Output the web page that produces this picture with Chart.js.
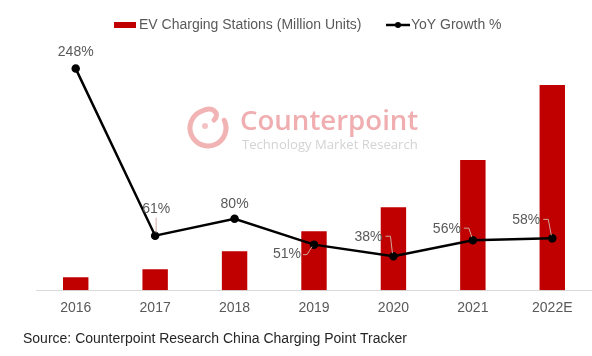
<!DOCTYPE html>
<html>
<head>
<meta charset="utf-8">
<script src="https://cdn.jsdelivr.net/npm/chart.js@4/dist/chart.umd.min.js"></script>
<style>
html,body{margin:0;padding:0;background:#fff;}
#wrap{width:592px;height:356px;}
</style>
</head>
<body>
<div id="wrap"><canvas id="c" width="592" height="356"></canvas></div>
<script>
// ---- data ----
const categories = ['2016', '2017', '2018', '2019', '2020', '2021', '2022E'];
const stations = [0.26, 0.42, 0.78, 1.18, 1.66, 2.6, 4.1];   // million units
const growth = [248, 61, 80, 51, 38, 56, 58];                  // YoY %
const growthLabels = ['248%', '61%', '80%', '51%', '38%', '56%', '58%'];
const seriesNames = ['EV Charging Stations (Million Units)', 'YoY Growth %'];
const sourceText = 'Source: Counterpoint Research China Charging Point Tracker';
const watermarkTitle = 'Counterpoint';
const watermarkSub = 'Technology Market Research';

// ---- style ----
const FONT = '"Liberation Sans", Arial, Helvetica, sans-serif';
const RED = '#c00000';
const GRAY = '#595959';
// label offsets relative to point (dx, dy) and leader-line style
const labelStyle = [
  {dx: 0, dy: -16, leader: null},
  {dx: 1, dy: -27, leader: 'vert'},
  {dx: 0, dy: -15, leader: null},
  {dx: -27, dy: 10, leader: 'left'},
  {dx: -25, dy: -19, leader: 'hook'},
  {dx: -26, dy: -11, leader: 'hook'},
  {dx: -26, dy: -18, leader: 'hook'}
];

const decor = {
  id: 'decor',
  beforeDatasetsDraw(chart) {
    const ctx = chart.ctx;
    ctx.save();
    // watermark logo
    const cx = 208, cy = 128, r = 18;
    const a1 = Math.PI * 1.40;
    ctx.strokeStyle = '#f2b3b5';
    ctx.lineWidth = 5;
    ctx.lineCap = 'round';
    ctx.beginPath();
    ctx.arc(cx, cy, r, -Math.PI * 0.14, a1, false);
    ctx.bezierCurveTo(cx + 4, cy - 22, cx + 13, cy - 15, cx + 6, cy - 8);
    ctx.stroke();
    ctx.fillStyle = '#f4c2c3';
    ctx.beginPath();
    ctx.arc(cx - 3, cy - 2, 3, 0, Math.PI * 2);
    ctx.fill();
    // watermark text
    ctx.textBaseline = 'middle';
    ctx.textAlign = 'left';
    ctx.font = '600 28px "Open Sans", Lato, sans-serif';
    let w = ctx.measureText(watermarkTitle).width;
    let size = 28 * 178 / w;
    ctx.font = '600 ' + size.toFixed(1) + 'px "Open Sans", Lato, sans-serif';
    ctx.fillStyle = '#f0aeb1';
    ctx.fillText(watermarkTitle, 240, 122);
    ctx.font = '13px "Open Sans", Lato, sans-serif';
    w = ctx.measureText(watermarkSub).width;
    size = 13 * 176 / w;
    ctx.font = size.toFixed(1) + 'px "Open Sans", Lato, sans-serif';
    ctx.fillStyle = '#d3d3d3';
    ctx.fillText(watermarkSub, 242, 145);
    ctx.restore();
  },
  afterDatasetsDraw(chart) {
    const ctx = chart.ctx;
    const meta = chart.getDatasetMeta(1);
    ctx.save();
    ctx.font = '14px ' + FONT;
    ctx.fillStyle = GRAY;
    ctx.textAlign = 'center';
    ctx.textBaseline = 'middle';
    ctx.strokeStyle = '#d0a8a0';
    ctx.lineWidth = 1;
    meta.data.forEach((pt, i) => {
      const s = labelStyle[i];
      const lx = pt.x + s.dx, ly = pt.y + s.dy;
      ctx.fillText(growthLabels[i], lx, ly);
      const hw = ctx.measureText(growthLabels[i]).width / 2;
      ctx.beginPath();
      if (s.leader === 'vert') {
        ctx.moveTo(pt.x + 1, ly + 9);
        ctx.lineTo(pt.x + 1, pt.y - 3);
      } else if (s.leader === 'hook') {
        ctx.moveTo(lx + hw + 3, ly - 1);
        ctx.lineTo(lx + hw + 8, ly - 1);
        ctx.lineTo(pt.x - 1, pt.y - 3);
      } else if (s.leader === 'left') {
        ctx.moveTo(lx + hw + 2, ly);
        ctx.lineTo(lx + hw + 6, ly);
        ctx.lineTo(pt.x - 2, pt.y + 2);
      }
      if (s.leader) ctx.stroke();
    });
    ctx.restore();
  },
  afterDraw(chart) {
    const ctx = chart.ctx;
    ctx.save();
    // legend
    ctx.fillStyle = RED;
    ctx.fillRect(114, 22, 22, 6);
    ctx.font = '14px ' + FONT;
    ctx.fillStyle = GRAY;
    ctx.textBaseline = 'middle';
    ctx.textAlign = 'left';
    ctx.fillText(seriesNames[0], 139, 25);
    ctx.strokeStyle = '#000';
    ctx.lineWidth = 2.5;
    ctx.beginPath();
    ctx.moveTo(386, 25);
    ctx.lineTo(410, 25);
    ctx.stroke();
    ctx.fillStyle = '#000';
    ctx.beginPath();
    ctx.arc(398, 25, 3, 0, Math.PI * 2);
    ctx.fill();
    ctx.fillStyle = GRAY;
    ctx.fillText(seriesNames[1], 411, 25);
    // source
    ctx.fillStyle = '#262626';
    ctx.fillText(sourceText, 23, 339);
    ctx.restore();
  }
};

new Chart(document.getElementById('c'), {
  data: {
    labels: categories,
    datasets: [
      {
        type: 'bar',
        label: seriesNames[0],
        data: stations,
        backgroundColor: RED,
        yAxisID: 'y',
        categoryPercentage: 1,
        barPercentage: 0.32,
        order: 2
      },
      {
        type: 'line',
        label: seriesNames[1],
        data: growth,
        borderColor: '#000',
        borderWidth: 2.5,
        pointRadius: 3,
        pointBackgroundColor: '#000',
        pointBorderColor: '#000',
        tension: 0,
        yAxisID: 'y1',
        order: 1
      }
    ]
  },
  options: {
    responsive: false,
    animation: false,
    devicePixelRatio: 1,
    layout: {autoPadding: false, padding: {left: 36, right: 0, top: 40, bottom: 29}},
    plugins: {legend: {display: false}, tooltip: {enabled: false}},
    scales: {
      x: {
        grid: {display: false, drawTicks: false},
        border: {color: '#d9d9d9', width: 1},
        ticks: {color: GRAY, font: {size: 14, family: FONT}, padding: 10}
      },
      y: {display: false, min: 0, max: 5},
      y1: {display: false, min: 0, max: 280}
    }
  },
  plugins: [decor]
});
</script>
</body>
</html>
